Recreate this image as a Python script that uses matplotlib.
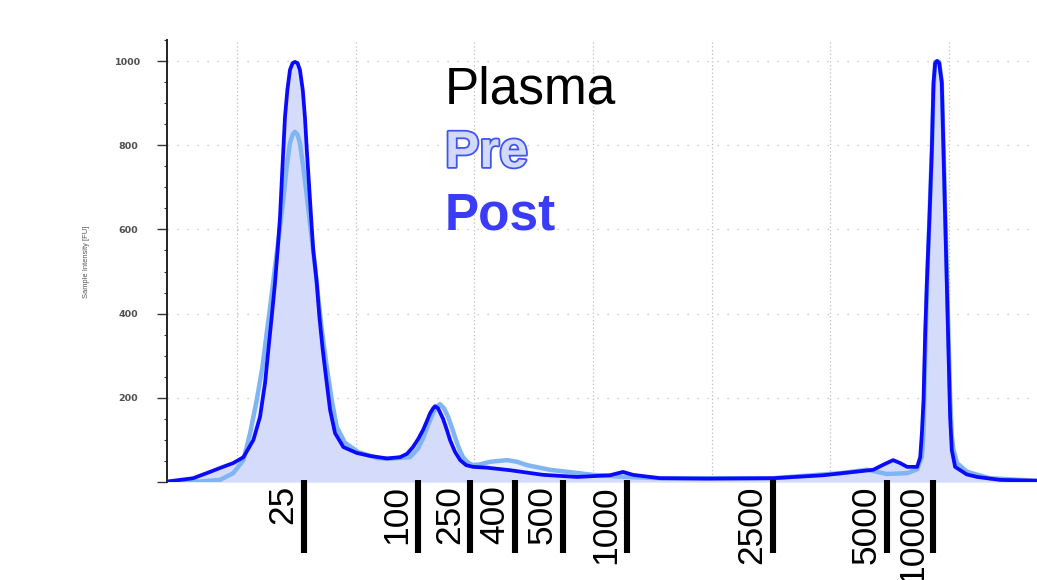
import matplotlib
matplotlib.use("Agg")
import matplotlib.pyplot as plt
import matplotlib.patheffects as pe
from matplotlib.transforms import blended_transform_factory
from matplotlib.ticker import MultipleLocator, FixedLocator

plt.rcParams['font.family'] = ['Liberation Sans', 'DejaVu Sans']

# ---------------- data (time in s, intensity in FU) ----------------
post_t = [22.05, 23.15, 23.86, 24.36, 24.84, 25.27, 25.69, 25.97, 26.18, 26.32, 26.46, 26.60,
          26.71, 26.81, 26.88, 26.95, 27.02, 27.12, 27.23, 27.34, 27.44, 27.55, 27.65,
          27.77, 27.86, 27.94, 28.03, 28.12, 28.21, 28.36, 28.47, 28.61, 28.78, 28.92,
          29.13, 29.48, 30.04, 30.60, 31.32, 31.87, 32.16, 32.41, 32.63, 32.84, 33.00,
          33.13, 33.26, 33.34, 33.47, 33.68, 33.85, 33.97, 34.18, 34.40, 34.65, 34.94,
          35.53, 36.50, 37.89, 39.32, 40.71, 41.26, 41.68, 42.82, 44.80, 47.58, 49.69,
          51.80, 52.26, 52.64, 52.93, 53.23, 53.65, 53.78, 53.85, 53.92, 53.99, 54.06,
          54.17, 54.27, 54.34, 54.41, 54.49, 54.58, 54.69, 54.76, 54.83, 54.90, 54.97,
          55.04, 55.11, 55.25, 55.74, 56.18, 57.14, 58.70]
post_fu = [1, 9, 24, 35, 45, 59, 100, 155, 235, 314, 392, 473,
           551, 629, 710, 789, 867, 931, 979, 995, 998, 995, 979,
           931, 867, 789, 710, 629, 551, 473, 392, 314, 235, 171,
           116, 83, 69, 62, 56, 59, 67, 83, 102, 124, 145,
           163, 175, 180, 175, 150, 122, 100, 72, 52, 40, 36,
           34, 28, 17, 12, 16, 24, 17, 9, 8, 9, 16,
           29, 42, 52, 45, 36, 36, 59, 116, 195, 354, 473,
           629, 789, 948, 995, 1000, 995, 948, 789, 629, 473, 314,
           155, 76, 36, 18, 12, 5, 3]

pre_t = [22.05, 23.44, 24.28, 24.84, 25.27, 25.55, 25.83, 26.07, 26.25, 26.43, 26.60,
         26.78, 26.95, 27.09, 27.23, 27.34, 27.44, 27.55, 27.65, 27.79, 27.96, 28.12,
         28.29, 28.43, 28.59, 28.78, 28.99, 29.20, 29.55, 30.11, 30.90, 31.32, 32.29,
         32.63, 32.84, 33.05, 33.26, 33.43, 33.55, 33.72, 33.89, 34.06, 34.18, 34.35,
         34.52, 34.73, 34.94, 35.24, 35.66, 36.37, 36.80, 37.22, 38.19, 40.00, 41.43,
         42.82, 44.80, 47.58, 50.40, 51.54, 52.38, 53.23, 53.65, 53.85, 53.92, 53.99,
         54.07, 54.17, 54.27, 54.34, 54.41, 54.49, 54.58, 54.69, 54.76, 54.83, 54.90,
         54.97, 55.04, 55.11, 55.17, 55.33, 55.74, 56.01, 56.72, 58.70]
pre_fu = [0, 1, 5, 21, 52, 116, 195, 273, 354, 432, 511,
          591, 670, 748, 805, 825, 832, 825, 805, 748, 670, 591,
          511, 432, 354, 273, 195, 131, 93, 71, 57, 55, 59,
          80, 104, 135, 164, 180, 185, 175, 155, 128, 107, 80,
          59, 46, 40, 42, 48, 52, 48, 40, 29, 17, 12,
          9, 9, 9, 21, 29, 19, 21, 30, 60, 120, 300,
          470, 629, 789, 930, 998, 1000, 998, 950, 800, 650, 500,
          350, 200, 110, 80, 45, 25, 20, 9, 3]

ladder_labels = ['25', '100', '250', '400', '500', '1000', '2500', '5000', '10000']
ladder_t = [27.82, 32.61, 34.83, 36.72, 38.74, 41.43, 47.56, 52.39, 54.33]

legend_texts = ['Plasma', 'Pre', 'Post']

y_ticks = [0, 200, 400, 600, 800, 1000]
y_ticklabels = ['', '200', '400', '600', '800', '1000']
x_grid = [25, 30, 35, 40, 45, 50, 55]

# ---------------- figure ----------------
W, H = 1037, 580
fig = plt.figure(figsize=(W / 100, H / 100), dpi=100)
ax = fig.add_axes([167 / W, 1 - 482 / H, 870 / W, 442 / H])

# fills
ax.fill_between(pre_t, 0, pre_fu, color='#eaf0fd', lw=0, zorder=1)
ax.fill_between(post_t, 0, post_fu, color='#d5dbfa', lw=0, zorder=2)

# lines
ax.plot(pre_t, pre_fu, color='#80b4f2', lw=3.2, solid_joinstyle='round', zorder=4)
ax.plot(post_t, post_fu, color='#0a0aff', lw=2.7, solid_joinstyle='round', zorder=5)

ax.set_xlim(22.05, 58.70)
ax.set_ylim(0, 1050)

# grid
for g in x_grid:
    ax.axvline(g, color='#bdbdbd', lw=0.9, ls=(0, (1, 2)), zorder=0)
for g in y_ticks[1:]:
    ax.axhline(g, color='#bdbdbd', lw=0.9, ls=(0, (1, 7)), zorder=0)

# spines / ticks
for s in ['top', 'right', 'bottom']:
    ax.spines[s].set_visible(False)
ax.spines['left'].set_linewidth(1.4)
ax.spines['left'].set_color('#222222')
ax.set_xticks([])
ax.yaxis.set_major_locator(FixedLocator(y_ticks))
ax.set_yticklabels(y_ticklabels)
ax.yaxis.set_minor_locator(MultipleLocator(50))
ax.tick_params(axis='y', which='major', direction='out', length=7, width=1,
               color='#333333', pad=21, labelsize=6.8, labelcolor='#505050')
ax.tick_params(axis='y', which='minor', direction='out', length=2.5, width=0.8,
               color='#333333')
for lab in ax.get_yticklabels():
    lab.set_horizontalalignment('center')
    lab.set_fontweight('bold')
    lab.set_family('DejaVu Sans')

fig.text(87 / W, 1 - 262 / H, 'Sample Intensity [FU]', rotation=90,
         ha='center', va='center', fontsize=5.4, color='#555555',
         family=['Liberation Sans Narrow', 'Liberation Sans'])

# ladder markers below the axis
tr = blended_transform_factory(ax.transData, fig.transFigure)
ax.vlines(ladder_t, 1 - 553 / H, 1 - 480 / H, transform=tr, colors='black',
          lw=4.4, clip_on=False, zorder=6)
for lab, t in zip(ladder_labels, ladder_t):
    ax.annotate(lab, xy=(t, 1 - 485 / H), xycoords=tr,
                xytext=(-15, 0), textcoords='offset points',
                rotation=90, rotation_mode='anchor', ha='right', va='center',
                fontsize=25.5, color='black', annotation_clip=False)

# legend-like labels
fig.text(445 / W, 1 - 103 / H, legend_texts[0], fontsize=37, color='black',
         ha='left', va='baseline')
fig.text(445 / W, 1 - 167 / H, legend_texts[1], fontsize=37, fontweight='bold',
         color='#d3d9fb', ha='left', va='baseline',
         path_effects=[pe.withStroke(linewidth=2.6, foreground='#3f55f2')])
fig.text(445 / W, 1 - 230 / H, legend_texts[2], fontsize=37, fontweight='bold',
         color='#3a3cfa', ha='left', va='baseline')

fig.savefig('out.png', dpi=100)
